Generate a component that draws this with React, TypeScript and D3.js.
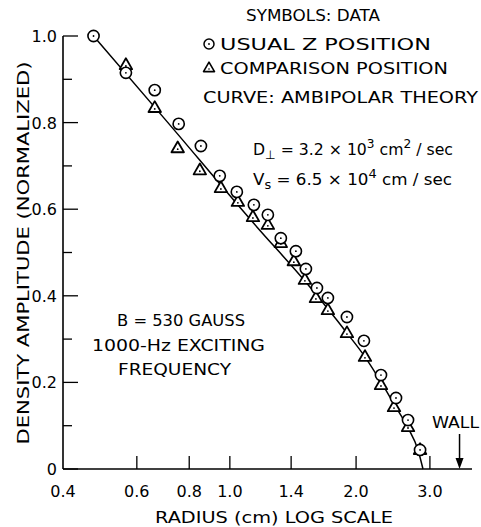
import React from 'react';
import * as d3 from 'd3';

// Data
const circleX = [0.473, 0.565, 0.662, 0.755, 0.853, 0.946, 1.039, 1.141, 1.232, 1.323, 1.437, 1.518, 1.613, 1.713, 1.902, 2.088, 2.293, 2.49, 2.66, 2.842];
const circleY = [1.0, 0.915, 0.875, 0.797, 0.746, 0.677, 0.64, 0.61, 0.587, 0.533, 0.503, 0.462, 0.418, 0.395, 0.351, 0.296, 0.217, 0.164, 0.113, 0.044];
const triX = [0.565, 0.662, 0.751, 0.848, 0.952, 1.045, 1.135, 1.232, 1.323, 1.421, 1.51, 1.604, 1.713, 1.902, 2.1, 2.293, 2.463, 2.66, 2.842];
const triY = [0.933, 0.834, 0.741, 0.69, 0.649, 0.617, 0.582, 0.564, 0.522, 0.48, 0.437, 0.395, 0.367, 0.314, 0.259, 0.194, 0.143, 0.097, 0.044];
const curveX = [0.473, 0.7, 1.16, 1.51, 1.902, 2.1, 2.293, 2.463, 2.66, 2.81, 2.888];
const curveY = [1.0, 0.808, 0.559, 0.434, 0.314, 0.259, 0.201, 0.15, 0.095, 0.044, 0.0];
const xTicks = [0.6, 0.8, 1.0, 1.4, 2.0, 3.0];
const xTickLabels = ['0.4', '0.6', '0.8', '1.0', '1.4', '2.0', '3.0'];
const xLabelValues = [0.4, 0.6, 0.8, 1.0, 1.4, 2.0, 3.0];
const yMajor = [0, 0.2, 0.4, 0.6, 0.8, 1.0];
const yMinor = [0.1, 0.3, 0.5, 0.7, 0.9];
const yTickLabels = ['0', '0.2', '0.4', '0.6', '0.8', '1.0'];
const wallX = 3.53;

const FONT = "'DejaVu Sans', sans-serif";

export default function App() {
  const W = 481, H = 527;
  const x = d3.scaleLog().domain([0.4, 3.78]).range([63, 472]);
  const y = d3.scaleLinear().domain([0, 1]).range([469, 36]);
  const line = d3.line<[number, number]>()
    .x(d => x(d[0]))
    .y(d => y(d[1]))
    .curve(d3.curveMonotoneX);
  const curvePts: [number, number][] = curveX.map((v, i) => [v, curveY[i]]);
  const tri = (cx: number, cy: number, s: number) => {
    const h = s * Math.sqrt(3) / 2;
    return `M${cx},${cy - h * 0.62}L${cx + s / 2},${cy + h * 0.38}L${cx - s / 2},${cy + h * 0.38}Z`;
  };
  const x0 = y.range()[0];
  return (
    <svg width={W} height={H} style={{ position: 'absolute', left: 0, top: 0, background: '#fff' }}
      fontFamily={FONT}>
      <rect width={W} height={H} fill="#fff" />
      {/* axes */}
      <line x1={63} x2={63} y1={y(1)} y2={y(0)} stroke="#000" strokeWidth={1.6} />
      <line x1={63} x2={472} y1={y(0)} y2={y(0)} stroke="#000" strokeWidth={1.6} />
      {yMajor.map(v => (
        <line key={'ym' + v} x1={63} x2={78} y1={y(v)} y2={y(v)} stroke="#000" strokeWidth={1.3} />
      ))}
      {yMinor.map(v => (
        <line key={'yn' + v} x1={63} x2={72} y1={y(v)} y2={y(v)} stroke="#000" strokeWidth={1.3} />
      ))}
      {yMajor.map((v, i) => (
        <text key={'yl' + v} x={57} y={y(v) + 6} textAnchor="end" fontSize={16}>{yTickLabels[i]}</text>
      ))}
      {xTicks.map(v => (
        <line key={'xt' + v} x1={x(v)} x2={x(v)} y1={x0} y2={x0 - 13} stroke="#000" strokeWidth={1.3} />
      ))}
      {xLabelValues.map((v, i) => (
        <text key={'xl' + v} x={x(v)} y={497} textAnchor="middle" fontSize={16}>{xTickLabels[i]}</text>
      ))}
      <text x={274} y={523} textAnchor="middle" fontSize={16} textLength={238} lengthAdjust="spacingAndGlyphs">RADIUS (cm)   LOG SCALE</text>
      <text transform={`translate(29,253) rotate(-90)`} textAnchor="middle" fontSize={16} textLength={383} lengthAdjust="spacingAndGlyphs">DENSITY AMPLITUDE (NORMALIZED)</text>

      {/* theory curve */}
      <path d={line(curvePts) || ''} fill="none" stroke="#000" strokeWidth={1.5} />

      {/* data */}
      {triX.map((v, i) => (
        <g key={'t' + i}>
          <path d={tri(x(v), y(triY[i]), 12.5)} fill="#fff" stroke="#000" strokeWidth={1.8} strokeLinejoin="round" />
          <circle cx={x(v)} cy={y(triY[i]) + 1} r={0.9} fill="#000" />
        </g>
      ))}
      {circleX.map((v, i) => (
        <g key={'c' + i}>
          <circle cx={x(v)} cy={y(circleY[i])} r={5.6} fill="#fff" stroke="#000" strokeWidth={1.6} />
          <circle cx={x(v)} cy={y(circleY[i])} r={0.9} fill="#000" />
        </g>
      ))}

      {/* legend / annotations */}
      <text x={246} y={21} fontSize={16.5} textLength={134} lengthAdjust="spacingAndGlyphs">SYMBOLS: DATA</text>
      <circle cx={209} cy={44} r={5} fill="#fff" stroke="#000" strokeWidth={1.5} />
      <circle cx={209} cy={44} r={0.9} fill="#000" />
      <text x={220} y={50} fontSize={15.5} textLength={211} lengthAdjust="spacingAndGlyphs">USUAL Z POSITION</text>
      <path d={tri(209, 68, 11)} fill="#fff" stroke="#000" strokeWidth={1.6} strokeLinejoin="round" />
      <circle cx={209} cy={69} r={0.8} fill="#000" />
      <text x={220} y={74} fontSize={15.5} textLength={228} lengthAdjust="spacingAndGlyphs">COMPARISON POSITION</text>
      <text x={203} y={103} fontSize={15.5} textLength={275} lengthAdjust="spacingAndGlyphs">CURVE: AMBIPOLAR THEORY</text>
      <text x={253} y={155} fontSize={15.5} textLength={200} lengthAdjust="spacingAndGlyphs">
        D<tspan fontSize={12} dy={4}>⊥</tspan><tspan dy={-4}> = 3.2 × 10</tspan><tspan fontSize={12} dy={-7}>3</tspan><tspan dy={7}> cm</tspan><tspan fontSize={12} dy={-7}>2</tspan><tspan dy={7}> / sec</tspan>
      </text>
      <text x={253} y={185} fontSize={15.5} textLength={199} lengthAdjust="spacingAndGlyphs">
        V<tspan fontSize={12} dy={4}>s</tspan><tspan dy={-4}> = 6.5 × 10</tspan><tspan fontSize={12} dy={-7}>4</tspan><tspan dy={7}> cm / sec</tspan>
      </text>
      <text x={117} y={326} fontSize={16} textLength={128} lengthAdjust="spacingAndGlyphs">B = 530 GAUSS</text>
      <text x={92} y={351} fontSize={16} textLength={173} lengthAdjust="spacingAndGlyphs">1000-Hz EXCITING</text>
      <text x={118} y={375} fontSize={16} textLength={113} lengthAdjust="spacingAndGlyphs">FREQUENCY</text>
      <text x={432} y={428} fontSize={15} textLength={47} lengthAdjust="spacingAndGlyphs">WALL</text>
      <line x1={x(wallX)} x2={x(wallX)} y1={434} y2={462} stroke="#000" strokeWidth={1.5} />
      <path d={`M${x(wallX) - 4},${458}L${x(wallX) + 4},${458}L${x(wallX)},${469}Z`} fill="#000" />
    </svg>
  );
}
